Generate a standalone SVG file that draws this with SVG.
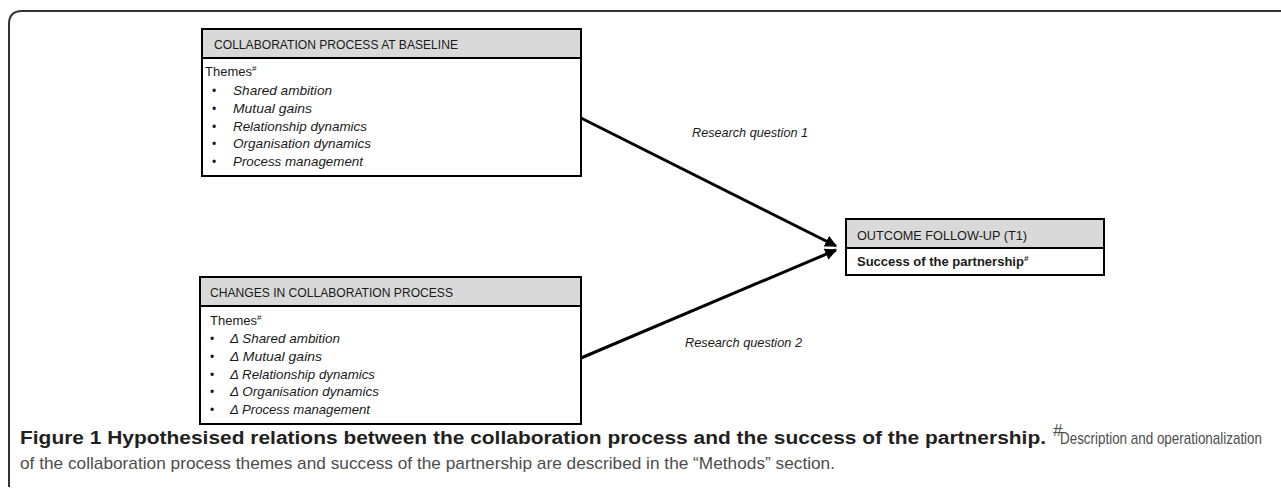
<svg xmlns="http://www.w3.org/2000/svg" width="1281" height="489" viewBox="0 0 1281 489">
<style>
.box{fill:#fff;stroke:#000;stroke-width:2}
.hdr{fill:#d9d9d9;stroke:#000;stroke-width:2}
.ht{font-family:"Liberation Sans",Arial,sans-serif;font-size:12px;fill:#1a1a1a}
.tt{font-family:"Liberation Sans",Arial,sans-serif;font-size:13px;fill:#1a1a1a}
.it{font-family:"Liberation Sans",Arial,sans-serif;font-size:13px;font-style:italic;fill:#1a1a1a}
.bul{font-family:"Liberation Sans",Arial,sans-serif;font-size:12px;fill:#1a1a1a}
.sup{font-size:8px}
.lbl{font-family:"Liberation Sans",Arial,sans-serif;font-size:13px;font-style:italic;fill:#1a1a1a}
.cb{font-family:"Liberation Sans",Arial,sans-serif;font-size:18px;font-weight:bold;fill:#231f20}
.cr{font-family:"Liberation Sans",Arial,sans-serif;font-size:17px;fill:#4d4d4d}
.conn{stroke:#000;stroke-width:3;fill:none}
</style>
<defs>
<marker id="ah" viewBox="0 0 10 10" refX="9" refY="5" markerWidth="4" markerHeight="4" orient="auto" markerUnits="strokeWidth">
<path d="M0,0 L10,5 L0,10 z" fill="#000"/>
</marker>
</defs>
<path id="frame" d="M9,487 L9,24 Q9,11 22,11 L1281,11" fill="none" stroke="#333" stroke-width="2"/>
<g id="connectors">
<line class="conn" x1="581" y1="118" x2="836" y2="246" marker-end="url(#ah)"/>
<line class="conn" x1="581" y1="358" x2="836" y2="250" marker-end="url(#ah)"/>
<text class="lbl" x="692" y="137" textLength="116" lengthAdjust="spacingAndGlyphs">Research question 1</text>
<text class="lbl" x="685" y="347" textLength="117" lengthAdjust="spacingAndGlyphs">Research question 2</text>
</g>
<g id="baseline">
<rect class="box" x="202" y="29" width="379" height="147"/>
<rect class="hdr" x="202" y="29" width="379" height="29"/>
<text class="ht" x="214" y="49" textLength="244" lengthAdjust="spacingAndGlyphs">COLLABORATION PROCESS AT BASELINE</text>
<text class="tt" x="205" y="76">Themes<tspan class="sup" dy="-5">#</tspan></text>
<g class="bul"><text x="212" y="95">•</text><text x="212" y="113">•</text><text x="212" y="131">•</text><text x="212" y="148">•</text><text x="212" y="166">•</text></g>
<text class="it" x="233" y="95" textLength="99" lengthAdjust="spacingAndGlyphs">Shared ambition</text>
<text class="it" x="233" y="113" textLength="79" lengthAdjust="spacingAndGlyphs">Mutual gains</text>
<text class="it" x="233" y="131" textLength="134" lengthAdjust="spacingAndGlyphs">Relationship dynamics</text>
<text class="it" x="233" y="148" textLength="138" lengthAdjust="spacingAndGlyphs">Organisation dynamics</text>
<text class="it" x="233" y="166" textLength="130" lengthAdjust="spacingAndGlyphs">Process management</text>
</g>
<g id="changes">
<rect class="box" x="200" y="277" width="381" height="147"/>
<rect class="hdr" x="200" y="277" width="381" height="29"/>
<text class="ht" x="210" y="297" textLength="243" lengthAdjust="spacingAndGlyphs">CHANGES IN COLLABORATION PROCESS</text>
<text class="tt" x="210" y="325">Themes<tspan class="sup" dy="-5">#</tspan></text>
<g class="bul"><text x="210" y="343">•</text><text x="210" y="361">•</text><text x="210" y="379">•</text><text x="210" y="396">•</text><text x="210" y="414">•</text></g>
<text class="it" x="230" y="343" textLength="110" lengthAdjust="spacingAndGlyphs">Δ Shared ambition</text>
<text class="it" x="230" y="361" textLength="92" lengthAdjust="spacingAndGlyphs">Δ Mutual gains</text>
<text class="it" x="230" y="379" textLength="145" lengthAdjust="spacingAndGlyphs">Δ Relationship dynamics</text>
<text class="it" x="230" y="396" textLength="149" lengthAdjust="spacingAndGlyphs">Δ Organisation dynamics</text>
<text class="it" x="230" y="414" textLength="140" lengthAdjust="spacingAndGlyphs">Δ Process management</text>
</g>
<g id="outcome">
<rect class="box" x="846" y="219" width="258" height="56"/>
<rect class="hdr" x="846" y="219" width="258" height="29"/>
<text class="ht" x="857" y="240" textLength="170" lengthAdjust="spacingAndGlyphs">OUTCOME FOLLOW-UP (T1)</text>
<text class="tt" x="857" y="266" font-weight="bold">Success of the partnership<tspan class="sup" dy="-5">#</tspan></text>
</g>
<g id="caption">
<text class="cb" x="20" y="444" textLength="1026" lengthAdjust="spacingAndGlyphs">Figure 1 Hypothesised relations between the collaboration process and the success of the partnership.</text>
<text class="cr" x="1053" y="436" font-size="10px">#</text>
<text class="cr" x="1060" y="444" font-size="16px" textLength="202" lengthAdjust="spacingAndGlyphs">Description and operationalization</text>
<text class="cr" x="20" y="469" textLength="815" lengthAdjust="spacingAndGlyphs">of the collaboration process themes and success of the partnership are described in the “Methods” section.</text>
</g>
</svg>
